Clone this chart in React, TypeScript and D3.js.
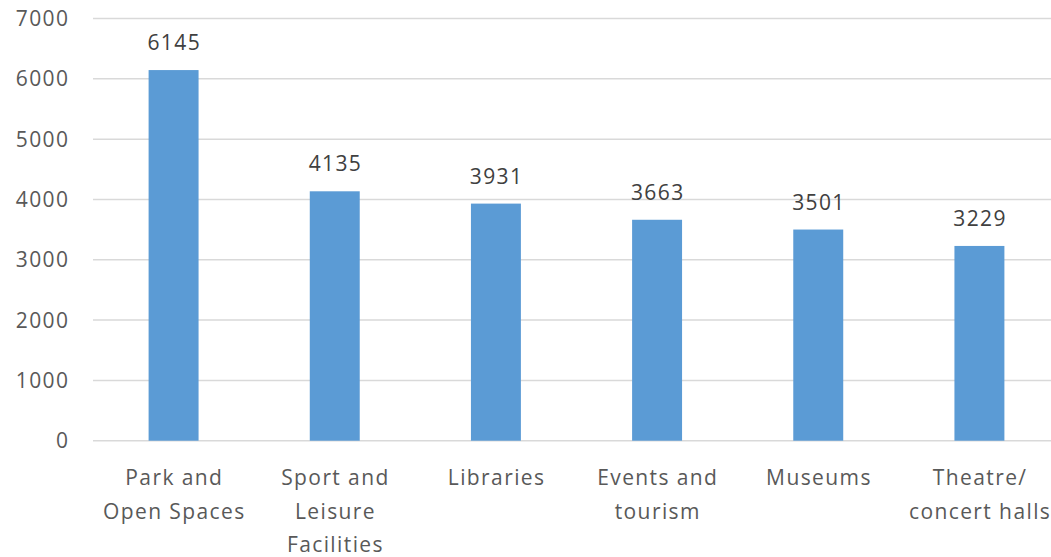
import React from "react";
import * as d3 from "d3";

const categories: string[][] = [
  ["Park and", "Open Spaces"],
  ["Sport and", "Leisure", "Facilities"],
  ["Libraries"],
  ["Events and", "tourism"],
  ["Museums"],
  ["Theatre/", "concert halls"],
];
const values: number[] = [6145, 4135, 3931, 3663, 3501, 3229];
const yTicks: number[] = [0, 1000, 2000, 3000, 4000, 5000, 6000, 7000];

const W = 1051;
const H = 557;
const FONT = "'Open Sans', 'Liberation Sans', sans-serif";
const TEXT = "#595959";
const LS = 1.4;

export default function App() {
  const x = d3
    .scaleBand<number>()
    .domain(values.map((_, i) => i))
    .range([93, 1060])
    .paddingInner(0.69)
    .paddingOuter(0.345);
  const y = d3.scaleLinear().domain([0, 7000]).range([440.7, 18.5]);

  return (
    <svg
      width={W}
      height={H}
      style={{ position: "absolute", left: 0, top: 0, background: "#fff" }}
      fontFamily={FONT}
    >
      {yTicks.map((t) => (
        <g key={t}>
          <line
            x1={93}
            x2={W}
            y1={y(t)}
            y2={y(t)}
            stroke="#d9d9d9"
            strokeWidth={1.5}
          />
          <text
            x={68 + LS}
            y={y(t)}
            dy="0.36em"
            textAnchor="end"
            fontSize={21}
            letterSpacing={LS}
            fill={TEXT}
          >
            {t}
          </text>
        </g>
      ))}
      {values.map((v, i) => {
        const bx = x(i)!;
        const bw = x.bandwidth();
        const cx = bx + bw / 2 + LS / 2;
        return (
          <g key={i}>
            <rect
              x={bx}
              y={y(v)}
              width={bw}
              height={y(0) - y(v)}
              fill="#5b9bd5"
            />
            <text
              x={cx}
              y={y(v) - 20}
              textAnchor="middle"
              fontSize={21}
              letterSpacing={LS}
              fill="#404040"
            >
              {v}
            </text>
            {categories[i].map((line, j) => (
              <text
                key={j}
                x={cx}
                y={485 + j * 33.5}
                textAnchor="middle"
                fontSize={21}
                letterSpacing={LS}
                fill={TEXT}
              >
                {line}
              </text>
            ))}
          </g>
        );
      })}
    </svg>
  );
}
